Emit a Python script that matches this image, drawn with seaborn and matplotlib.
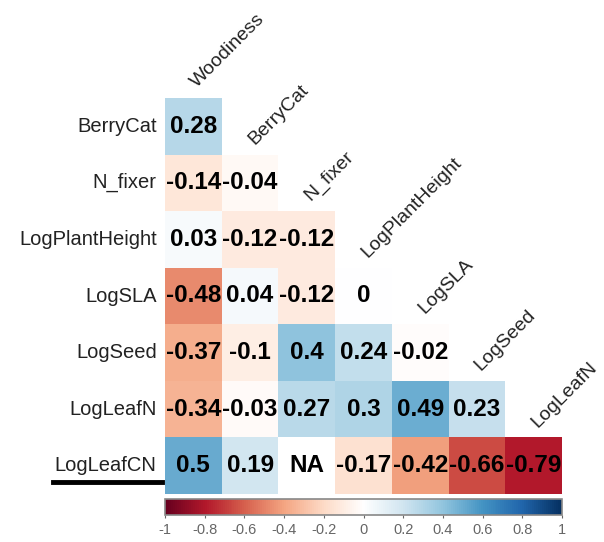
import numpy as np
import pandas as pd
import matplotlib
matplotlib.use("Agg")
import matplotlib.pyplot as plt
from matplotlib.colors import LinearSegmentedColormap
import seaborn as sns

# variabili della matrice di correlazione (triangolo inferiore)
righe = ["BerryCat", "N_fixer", "LogPlantHeight", "LogSLA", "LogSeed", "LogLeafN", "LogLeafCN"]
colonne = ["Woodiness", "BerryCat", "N_fixer", "LogPlantHeight", "LogSLA", "LogSeed", "LogLeafN"]

r_berrycat = [0.28]
r_nfixer = [-0.14, -0.04]
r_plantheight = [0.03, -0.12, -0.12]
r_sla = [-0.48, 0.04, -0.12, 0]
r_seed = [-0.37, -0.1, 0.4, 0.24, -0.02]
r_leafn = [-0.34, -0.03, 0.27, 0.3, 0.49, 0.23]
r_leafcn = [0.5, 0.19, np.nan, -0.17, -0.42, -0.66, -0.79]

valori = [r_berrycat, r_nfixer, r_plantheight, r_sla, r_seed, r_leafn, r_leafcn]

n = len(righe)
mat = np.full((n, n), np.nan)
for i, riga in enumerate(valori):
    mat[i, :len(riga)] = riga
df = pd.DataFrame(mat, index=righe, columns=colonne)

# celle sopra la diagonale non mostrate
mask = np.triu(np.ones((n, n), dtype=bool), k=1)

etichette = np.empty((n, n), dtype=object)
for i in range(n):
    for j in range(n):
        v = mat[i, j]
        etichette[i, j] = "" if np.isnan(v) else f"{v:g}"

# palette RdBu con il bianco al centro (come corrplot)
rdbu = ["#67001F", "#B2182B", "#D6604D", "#F4A582", "#FDDBC7", "#FFFFFF",
        "#D1E5F0", "#92C5DE", "#4393C3", "#2166AC", "#053061"]
cmap = LinearSegmentedColormap.from_list("rdbu_corr", rdbu, N=200)

plt.rcParams["font.family"] = ["Liberation Sans", "DejaVu Sans"]

fig = plt.figure(figsize=(6.04, 5.42), dpi=100)
ax = fig.add_axes([165 / 604, 1 - 494 / 542, 397 / 604, 396 / 542])
cax = fig.add_axes([165 / 604, 1 - 515 / 542, 397 / 604, 16 / 542])

sns.heatmap(df, mask=mask, cmap=cmap, vmin=-1, vmax=1, annot=etichette, fmt="",
            annot_kws={"size": 17.5, "weight": "bold", "color": "black"},
            cbar=True, cbar_ax=cax, cbar_kws={"orientation": "horizontal"},
            square=False, ax=ax)

# NA per la cella mancante
for i in range(n):
    for j in range(i + 1):
        if np.isnan(mat[i, j]):
            ax.text(j + 0.5, i + 0.5, "NA", ha="center", va="center",
                    fontsize=17.5, fontweight="bold", color="black")

ax.set_xticks([])
ax.set_xlabel("")
ax.set_ylabel("")
ax.set_yticks(np.arange(n) + 0.5)
ax.set_yticklabels(righe, rotation=0, fontsize=14.5, color="#222222")
ax.tick_params(axis="y", length=0, pad=6)

# etichette delle colonne sulla diagonale
for j, nome in enumerate(colonne):
    ax.text(j + 0.62, j - 0.12, nome, rotation=45, rotation_mode="anchor",
            ha="left", va="bottom", fontsize=14, color="#222222", clip_on=False)

# sottolineatura sotto LogLeafCN
fig.add_artist(plt.Line2D([53 / 604, 162 / 604], [1 - 482 / 542, 1 - 482 / 542],
                          color="black", linewidth=3.5))

# barra dei colori
cbar = ax.collections[0].colorbar
tick_cb = [-1, -0.8, -0.6, -0.4, -0.2, 0, 0.2, 0.4, 0.6, 0.8, 1]
cbar.set_ticks(tick_cb)
cbar.set_ticklabels([f"{t:g}" for t in tick_cb])
cax.tick_params(labelsize=10.5, colors="#666666", length=2, width=0.8, pad=4)
cbar.outline.set_visible(True)
cbar.outline.set_edgecolor("#888888")
cbar.outline.set_linewidth(1.2)

fig.savefig("out.png", dpi=100)
